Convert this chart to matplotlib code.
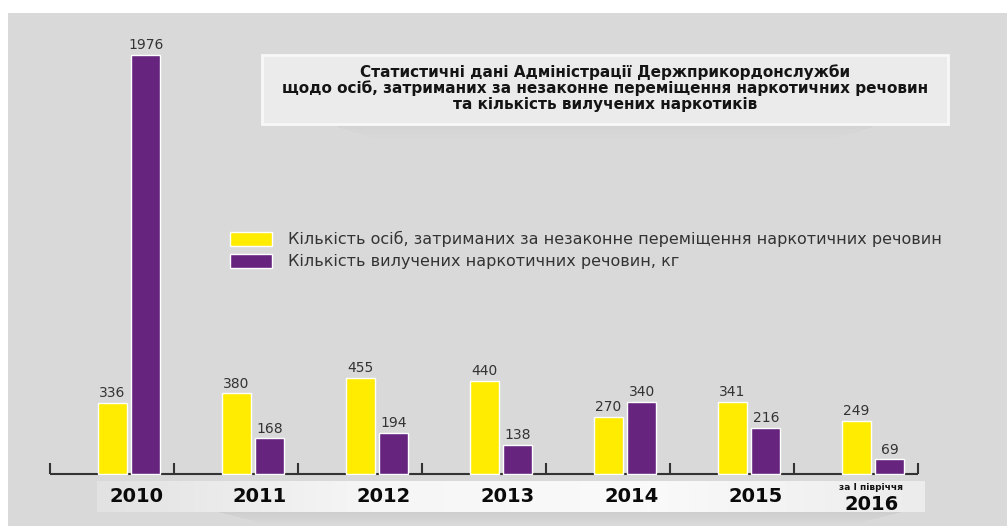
import matplotlib.pyplot as plt
import matplotlib.patches as mpatches
import matplotlib.transforms as mtransforms
from matplotlib.colors import LinearSegmentedColormap
import numpy as np

# data
years = ['2010', '2011', '2012', '2013', '2014', '2015', '2016']
detained = [336, 380, 455, 440, 270, 341, 249]
seized_kg = [1976, 168, 194, 138, 340, 216, 69]

title = ('Статистичні дані Адміністрації Держприкордонслужби\n'
         'щодо осіб, затриманих за незаконне переміщення наркотичних речовин\n'
         'та кількість вилучених наркотиків')
label_detained = 'Кількість осіб, затриманих за незаконне переміщення наркотичних речовин'
label_seized = 'Кількість вилучених наркотичних речовин, кг'
half_year = 'за І півріччя'

YELLOW = '#ffec00'
PURPLE = '#66247f'
BG = '#d9d9d9'
TXT = '#333333'
W, H = 1007, 526

fig = plt.figure(figsize=(W / 100, H / 100), dpi=100)
fig.patch.set_facecolor('white')
fig.add_artist(mpatches.Rectangle((8 / W, 0), 1, 1 - 13 / H, transform=fig.transFigure,
                                  facecolor=BG, edgecolor='none', zorder=0))

# soft shadows (title box and year strip)
for k in range(12):
    a = 0.05 * (1 - k / 12)
    fig.add_artist(mpatches.Rectangle(((330 + k * 4) / W, 1 - (125 + k * 1.3) / H), (550 - k * 8) / W, 1.3 / H,
                                      transform=fig.transFigure, facecolor='#707070',
                                      alpha=a, edgecolor='none', zorder=0.5))
    fig.add_artist(mpatches.Rectangle(((220 + k * 4) / W, 1 - (513 + k * 1.0) / H), (680 - k * 8) / W, 1.0 / H,
                                      transform=fig.transFigure, facecolor='#707070',
                                      alpha=a * 2, edgecolor='none', zorder=0.5))

# title box
fig.add_artist(mpatches.Rectangle((262 / W, 1 - 124 / H), 686 / W, 69 / H, transform=fig.transFigure,
                                  facecolor='#ebebeb', edgecolor='#f8f8f8', lw=2, zorder=1))
fig.text(605 / W, 1 - 88 / H, title, ha='center', va='center', fontsize=11, fontweight='bold',
         family='DejaVu Sans', color='#141414', linespacing=1.08, zorder=2)

# year strip with light gradient
sax = fig.add_axes([97 / W, 1 - 512 / H, 828 / W, 31 / H])
cmap = LinearSegmentedColormap.from_list('strip', ['#e2e2e2', '#f6f6f6', '#fafafa', '#ececec'])
sax.imshow(np.linspace(0, 1, 256)[None, :], aspect='auto', cmap=cmap, extent=(0, 1, 0, 1))
sax.axis('off')
sax.set_zorder(0)

# main chart, 124 px per category, 0.212 px per unit
ax = fig.add_axes([0, 0, 1, 1 - 13 / H])
ax.set_facecolor('none')
ax.set_zorder(2)
ax.set_xlim(-112.5 / 124, (W - 112.5) / 124)
ax.set_ylim(-52 / 0.212, 461 / 0.212)
ax.axis('off')

x = np.arange(len(years))
bw = 0.234
b1 = ax.bar(x, detained, width=bw, color=YELLOW, edgecolor='white', linewidth=1, zorder=3)
b2 = ax.bar(x + 0.27, seized_kg, width=bw, color=PURPLE, edgecolor='white', linewidth=1, zorder=3)

ax.plot([-0.5, len(years) - 0.5], [0, 0], color=TXT, lw=1.5, zorder=2, solid_capstyle='butt')
ax.vlines(np.arange(len(years) + 1) - 0.5, 0, 50, color=TXT, lw=1.5, zorder=2)

for bars, vals in ((b1, detained), (b2, seized_kg)):
    for r, v in zip(bars, vals):
        ax.annotate(str(v), (r.get_x() + r.get_width() / 2, v), xytext=(0, 2),
                    textcoords='offset points', ha='center', va='bottom',
                    fontsize=10, color=TXT)

tr = mtransforms.blended_transform_factory(ax.transData, fig.transFigure)
for i, y in enumerate(years):
    if i == len(years) - 1:
        ax.text(i + 0.12, 1 - 487 / H, half_year, transform=tr, ha='center', va='center',
                fontsize=6.5, fontweight='bold', color='#111111')
        ax.text(i + 0.12, 1 - 504 / H, y, transform=tr, ha='center', va='center',
                fontsize=14, fontweight='heavy', color='#0a0a0a')
    else:
        ax.text(i + 0.19, 1 - 497 / H, y, transform=tr, ha='center', va='center',
                fontsize=14, fontweight='heavy', color='#0a0a0a')

ax.legend([b1, b2], [label_detained, label_seized], loc='upper left',
          bbox_to_anchor=(230 / W, 1 - 231 / H), bbox_transform=fig.transFigure,
          frameon=False, fontsize=11.5, labelcolor=TXT, handlelength=2.6, handleheight=1.0,
          handletextpad=1.05, labelspacing=0.4, borderpad=0, borderaxespad=0)

plt.savefig('out.png', dpi=100, facecolor=fig.get_facecolor())
